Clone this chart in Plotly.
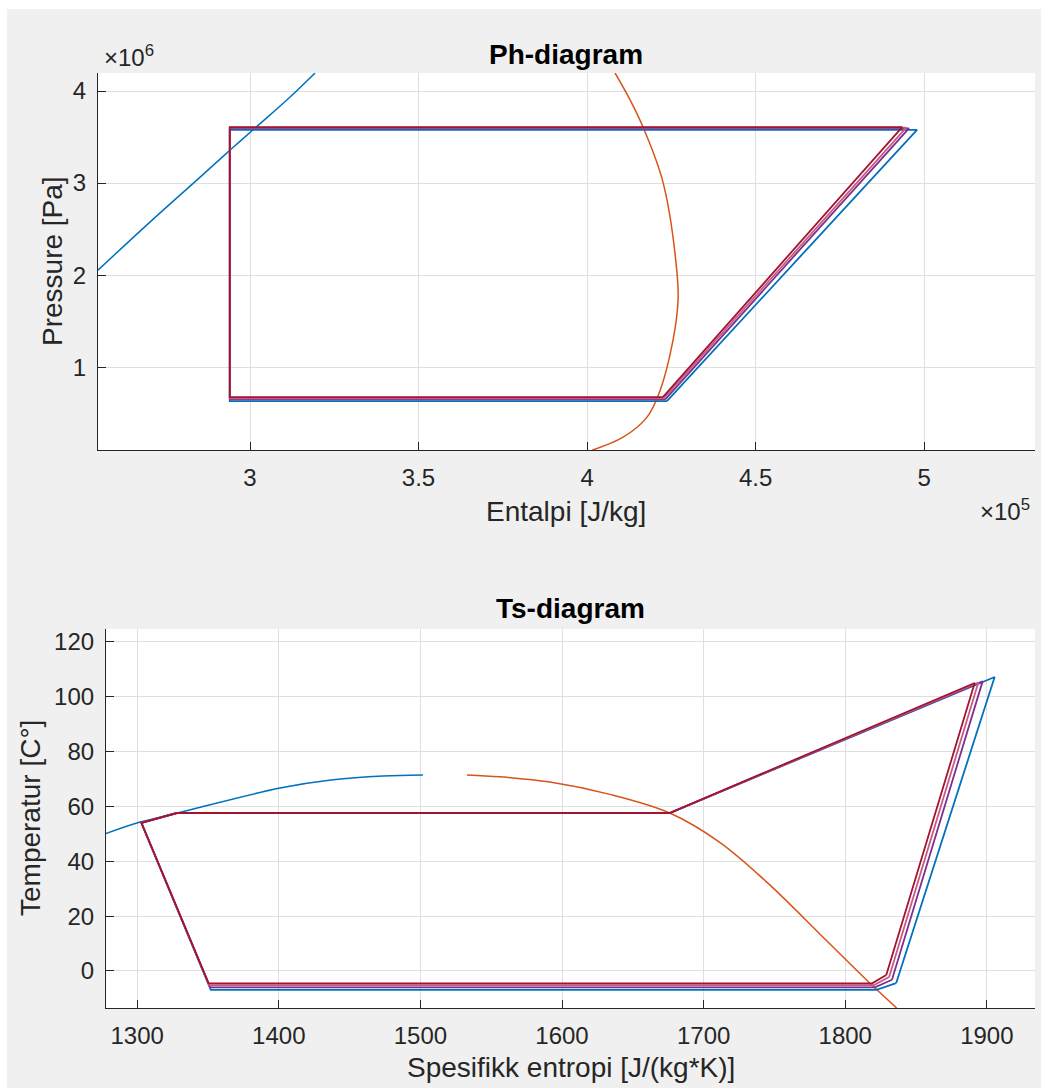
import plotly.graph_objects as go

W, H = 1041, 1088

# ---------------- Ph-diagram data ----------------
# saturated liquid line (J/kg, Pa)
ph_liq_h = [2.549e5, 2.703e5, 2.852e5, 2.941e5, 3.015e5, 3.119e5, 3.193e5]
ph_liq_p = [2.054e6, 2.576e6, 3.065e6, 3.359e6, 3.598e6, 3.935e6, 4.196e6]
# saturated vapour line
ph_vap_h = [4.083e5, 4.128e5, 4.166e5, 4.226e5, 4.267e5, 4.270e5, 4.255e5, 4.217e5, 4.178e5, 4.107e5, 4.015e5]
ph_vap_p = [4.196e6, 3.902e6, 3.609e6, 3.000e6, 2.022e6, 1.728e6, 1.293e6, 0.750e6, 0.457e6, 0.239e6, 0.098e6]

# cycles: blue, purple, pink, red
cycle_colors = ["#0072BD", "#7E2F8E", "#C85A86", "#A2142F"]
h_evap_out = [4.237e5, 4.232e5, 4.228e5, 4.225e5]
h_comp_out = [4.979e5, 4.955e5, 4.947e5, 4.935e5]
h_cond_out = [2.94e5, 2.94e5, 2.94e5, 2.94e5]
p_evap = [0.632e6, 0.650e6, 0.662e6, 0.674e6]
p_cond = [3.578e6, 3.595e6, 3.602e6, 3.609e6]

# ---------------- Ts-diagram data ----------------
ts_liq_s = [1277.4, 1302.1, 1328.2, 1400.9, 1438.3, 1473.6, 1501.8]
ts_liq_T = [50.0, 54.3, 57.6, 66.7, 69.7, 71.1, 71.5]
ts_vap_s = [1532.9, 1556.2, 1591.5, 1633.8, 1676.1, 1711.4, 1746.7, 1786.9, 1817.3, 1836.3]
ts_vap_T = [71.5, 70.8, 68.9, 64.4, 57.6, 46.9, 31.4, 11.0, -4.4, -13.5]

s_evap_out = [1836.0, 1833.0, 1831.0, 1829.0]
T_evap_out = [-4.4, -3.2, -2.2, -1.5]
s_comp_out = [1905.5, 1897.0, 1894.0, 1891.4]
T_comp_out = [107.2, 105.6, 105.2, 105.0]
s_cond_vap = [1676.0, 1676.0, 1676.0, 1676.0]
s_cond_liq = [1328.0, 1328.0, 1328.0, 1328.0]
T_cond = [57.6, 57.6, 57.6, 57.6]
s_subcool = [1303.0, 1303.0, 1303.0, 1303.0]
T_subcool = [54.0, 54.0, 54.0, 54.0]
s_exp_out = [1352.0, 1351.5, 1351.0, 1350.5]
s_evap_vap = [1822.0, 1821.0, 1820.0, 1819.0]
T_evap = [-6.9, -6.0, -5.2, -4.5]

# ---------------- figure ----------------
fig = go.Figure()

fig.add_trace(go.Scatter(x=ph_liq_h, y=ph_liq_p, mode="lines",
                         line=dict(color="#0072BD", width=1.5, shape="spline", smoothing=1.0),
                         xaxis="x", yaxis="y", showlegend=False))
fig.add_trace(go.Scatter(x=ph_vap_h, y=ph_vap_p, mode="lines",
                         line=dict(color="#D95319", width=1.5, shape="spline", smoothing=1.0),
                         xaxis="x", yaxis="y", showlegend=False))
for i, c in enumerate(cycle_colors):
    hx = [h_evap_out[i], h_comp_out[i], h_cond_out[i], h_cond_out[i], h_evap_out[i]]
    py = [p_evap[i], p_cond[i], p_cond[i], p_evap[i], p_evap[i]]
    fig.add_trace(go.Scatter(x=hx, y=py, mode="lines", line=dict(color=c, width=1.8),
                             xaxis="x", yaxis="y", showlegend=False))

fig.add_trace(go.Scatter(x=ts_liq_s, y=ts_liq_T, mode="lines",
                         line=dict(color="#0072BD", width=1.5, shape="spline", smoothing=1.0),
                         xaxis="x2", yaxis="y2", showlegend=False))
fig.add_trace(go.Scatter(x=ts_vap_s, y=ts_vap_T, mode="lines",
                         line=dict(color="#D95319", width=1.5, shape="spline", smoothing=1.0),
                         xaxis="x2", yaxis="y2", showlegend=False))
for i, c in enumerate(cycle_colors):
    sx = [s_evap_out[i], s_comp_out[i], s_cond_vap[i], s_cond_liq[i], s_subcool[i],
          s_exp_out[i], s_evap_vap[i], s_evap_out[i]]
    ty = [T_evap_out[i], T_comp_out[i], T_cond[i], T_cond[i], T_subcool[i],
          T_evap[i], T_evap[i], T_evap_out[i]]
    fig.add_trace(go.Scatter(x=sx, y=ty, mode="lines", line=dict(color=c, width=1.8),
                             xaxis="x2", yaxis="y2", showlegend=False))

FONT = "Liberation Sans, Arial, sans-serif"
TXT = "#262626"
GRID = "#dfdfdf"

def ax(domain, rng, tv, tt, anchor):
    return dict(domain=domain, range=rng, tickvals=tv, ticktext=tt, anchor=anchor,
                showgrid=True, gridcolor=GRID, gridwidth=1, zeroline=False,
                showline=True, linecolor=TXT, linewidth=1.2, ticks="inside",
                ticklen=8, tickcolor=TXT, tickwidth=1.2, ticklabelstandoff=6,
                tickfont=dict(family=FONT, size=24, color=TXT), mirror=False)

ax_top_x = [98 / W, 1035 / W]
ax_top_y = [1 - 450 / H, 1 - 73 / H]
ax_bot_x = [106 / W, 1035 / W]
ax_bot_y = [1 - 1008 / H, 1 - 629 / H]

xa = ax(ax_top_x, [2.549e5, 5.329e5], [3e5, 3.5e5, 4e5, 4.5e5, 5e5], ["3", "3.5", "4", "4.5", "5"], "y")
ya = ax(ax_top_y, [0.1e6, 4.196e6], [1e6, 2e6, 3e6, 4e6], ["1", "2", "3", "4"], "x")
xb = ax(ax_bot_x, [1278, 1934], [1300, 1400, 1500, 1600, 1700, 1800, 1900],
        ["1300", "1400", "1500", "1600", "1700", "1800", "1900"], "y2")
yb = ax(ax_bot_y, [-13.5, 124.7], [0, 20, 40, 60, 80, 100, 120],
        ["0", "20", "40", "60", "80", "100", "120"], "x2")

shapes = [
    dict(type="rect", xref="paper", yref="paper", x0=7 / W, x1=1, y0=0, y1=1 - 9 / H,
         fillcolor="#f0f0f0", line=dict(width=0), layer="below"),
    dict(type="rect", xref="paper", yref="paper", x0=ax_top_x[0], x1=ax_top_x[1],
         y0=ax_top_y[0], y1=ax_top_y[1], fillcolor="white", line=dict(width=0), layer="below"),
    dict(type="rect", xref="paper", yref="paper", x0=ax_bot_x[0], x1=ax_bot_x[1],
         y0=ax_bot_y[0], y1=ax_bot_y[1], fillcolor="white", line=dict(width=0), layer="below"),
]

def ann(text, x, y, size=28, angle=0, bold=False, color=TXT):
    return dict(text=("<b>%s</b>" % text) if bold else text, x=x / W, y=1 - y / H,
                xref="paper", yref="paper", showarrow=False, textangle=angle,
                xanchor="center", yanchor="middle",
                font=dict(family=FONT, size=size, color=color))

annotations = [
    ann("Ph-diagram", 566, 55, bold=True, color="#000000"),
    ann("Pressure [Pa]", 52, 261, angle=-90),
    ann("Entalpi [J/kg]", 566, 511),
    ann("×10<sup>5</sup>", 1005, 510, size=24),
    ann("×10<sup>6</sup>", 129, 56, size=24),
    ann("Ts-diagram", 570, 608, bold=True, color="#000000"),
    ann("Temperatur [C°]", 30, 818, angle=-90),
    ann("Spesifikk entropi [J/(kg*K)]", 571, 1067),
]

fig.update_layout(
    width=W, height=H, autosize=False,
    margin=dict(l=0, r=0, t=0, b=0, pad=0),
    paper_bgcolor="white", plot_bgcolor="white",
    xaxis=xa, yaxis=ya, xaxis2=xb, yaxis2=yb,
    shapes=shapes, annotations=annotations, showlegend=False,
    font=dict(family=FONT, color=TXT),
)

fig.write_html("out.html")
